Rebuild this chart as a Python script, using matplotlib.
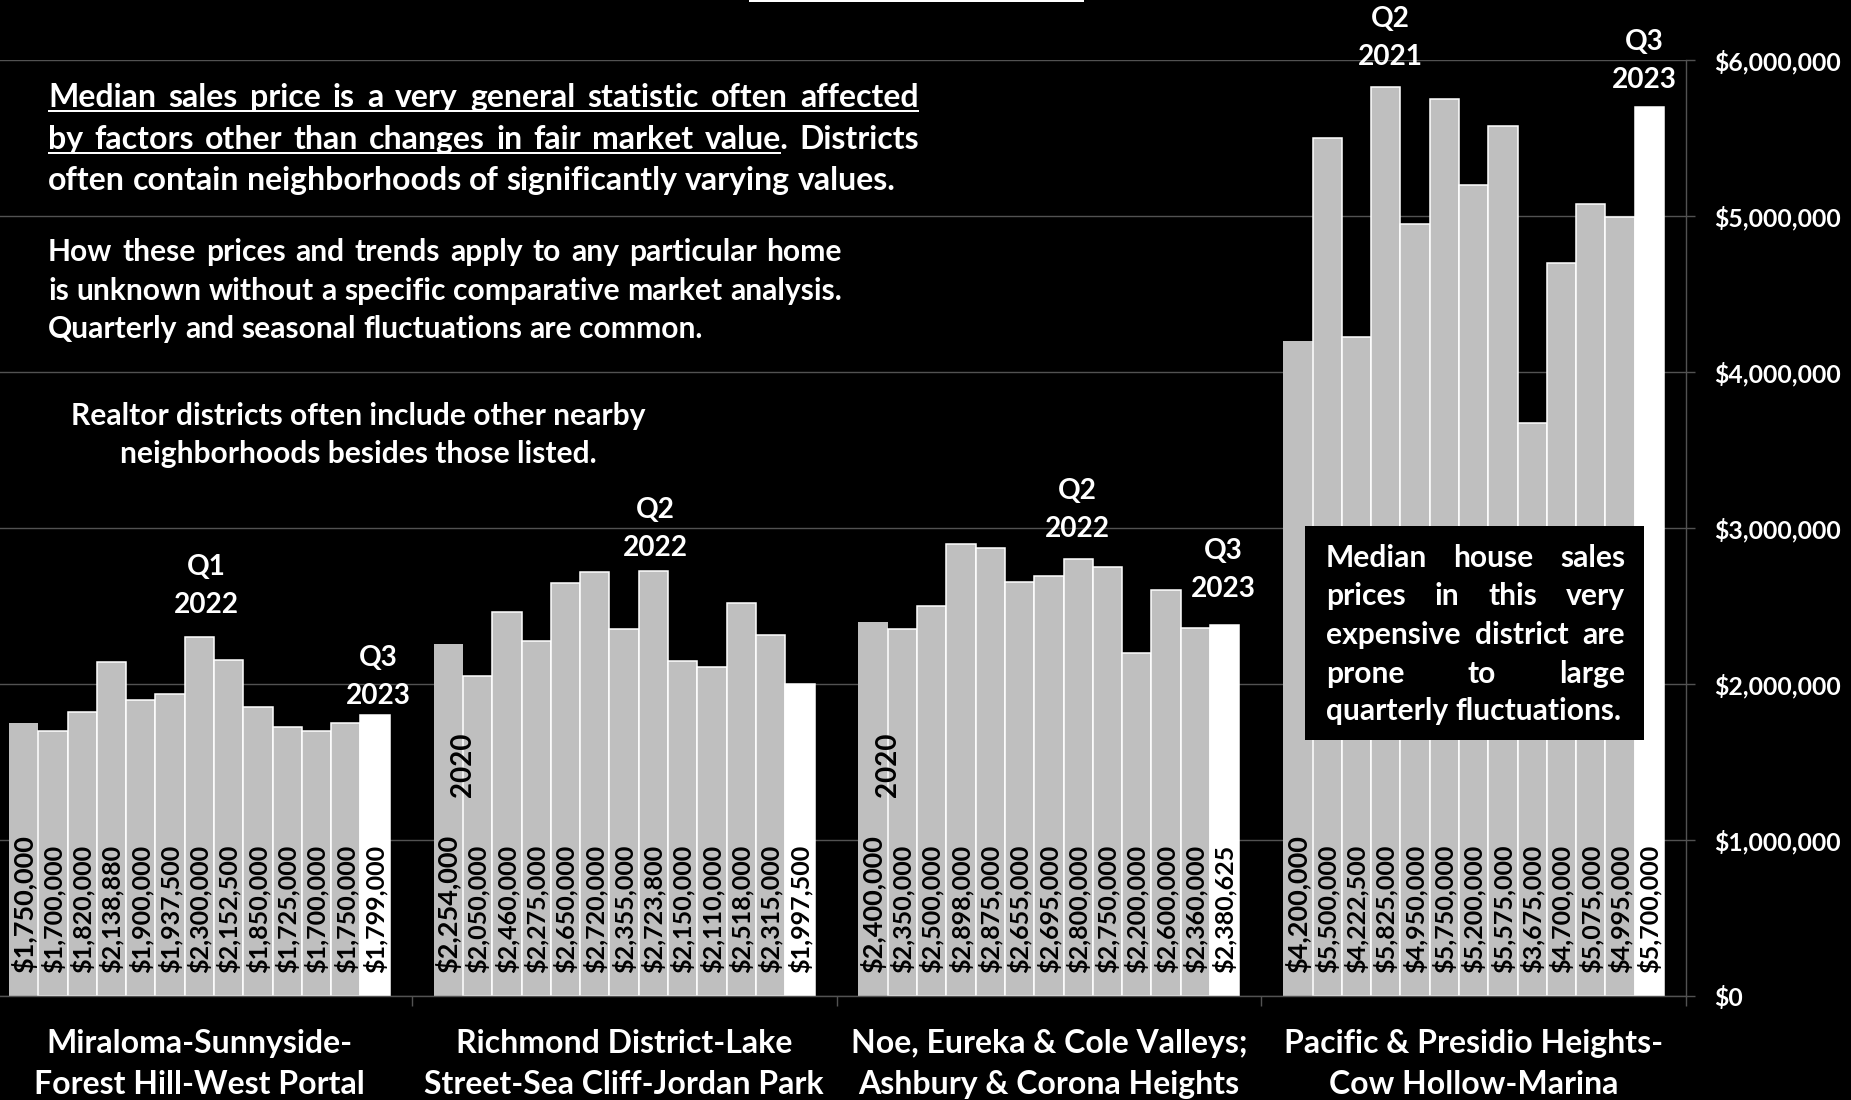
import matplotlib
matplotlib.use("Agg")
import matplotlib.pyplot as plt
from matplotlib.transforms import Affine2D, blended_transform_factory
from matplotlib.ticker import FuncFormatter, FixedLocator
from matplotlib.patches import Rectangle
import numpy as np

plt.rcParams["font.family"] = ["Lato", "DejaVu Sans"]

# ---- data -----------------------------------------------------------------
districts = [
    "Miraloma-Sunnyside-\nForest Hill-West Portal",
    "Richmond District-Lake\nStreet-Sea Cliff-Jordan Park",
    "Noe, Eureka & Cole Valleys;\nAshbury & Corona Heights",
    "Pacific & Presidio Heights-\nCow Hollow-Marina",
]
quarters = ["Q3 2020", "Q4 2020", "Q1 2021", "Q2 2021", "Q3 2021", "Q4 2021",
            "Q1 2022", "Q2 2022", "Q3 2022", "Q4 2022", "Q1 2023", "Q2 2023",
            "Q3 2023"]
miraloma = [1750000, 1700000, 1820000, 2138880, 1900000, 1937500, 2300000,
            2152500, 1850000, 1725000, 1700000, 1750000, 1799000]
richmond = [2254000, 2050000, 2460000, 2275000, 2650000, 2720000, 2355000,
            2723800, 2150000, 2110000, 2518000, 2315000, 1997500]
noe_eureka = [2400000, 2350000, 2500000, 2898000, 2875000, 2655000, 2695000,
              2800000, 2750000, 2200000, 2600000, 2360000, 2380625]
pacific = [4200000, 5500000, 4222500, 5825000, 4950000, 5750000, 5200000,
           5575000, 3675000, 4700000, 5075000, 4995000, 5700000]
prices = [miraloma, richmond, noe_eureka, pacific]
y_ticks = [0, 1000000, 2000000, 3000000, 4000000, 5000000, 6000000]

# quarter call-outs: (district, quarter, x shift px, lift above bar px)
callouts = [(0, "Q1 2022", 7, 51), (0, "Q3 2023", 3, 38),
            (1, "Q2 2022", 2, 42), (2, "Q2 2022", -1, 49),
            (2, "Q3 2023", -1, 55), (3, "Q2 2021", 5, 49),
            (3, "Q3 2023", -5, 46)]

# ---- figure ---------------------------------------------------------------
W, H = 1851, 1100
fig = plt.figure(figsize=(W / 100, H / 100), dpi=100, facecolor="black")
# pixel coordinates measured from the top-left corner
pix = Affine2D().scale(1 / W, -1 / H).translate(0, 1) + fig.transFigure

ax_l, ax_r, ax_t, ax_b = -13, 1686, 60, 996
ax = fig.add_axes([ax_l / W, (H - ax_b) / H, (ax_r - ax_l) / W, (ax_b - ax_t) / H])
ax.set_facecolor("black")

GRID = "#525252"
BAR = "#bfbfbf"

n_q, n_d = len(quarters), len(districts)
bw = 1 / (n_q + 1.5)
x_cat = np.arange(n_d)
bar_x = {}
for j in range(n_q):
    xs = x_cat + (j - (n_q - 1) / 2) * bw
    vals = [p[j] for p in prices]
    face = "white" if j == n_q - 1 else BAR
    edge = "none" if j == 0 else "white"
    ax.bar(xs, vals, width=bw, color=face, edgecolor=edge, linewidth=1.1, zorder=2)
    for d, (x, v) in enumerate(zip(xs, vals)):
        bar_x[(d, j)] = x
        ax.annotate(f"${v:,.0f}", xy=(x, 0), xytext=(0, 23),
                    textcoords="offset pixels", rotation=90, ha="center",
                    va="bottom", fontsize=19.5 if j == 0 else 18,
                    fontweight="bold", color="black", zorder=3)

ax.set_xlim(-0.5, n_d - 0.5)
ax.set_ylim(0, 6000000)

# axes styling
for side in ("left", "top"):
    ax.spines[side].set_visible(False)
for side in ("right", "bottom"):
    ax.spines[side].set_color(GRID)
    ax.spines[side].set_linewidth(1.0)
ax.yaxis.tick_right()
ax.yaxis.set_major_locator(FixedLocator(y_ticks))
ax.yaxis.set_major_formatter(FuncFormatter(lambda v, _: f"${v:,.0f}"))
ax.tick_params(axis="y", direction="out", length=6.5, width=1.0, color=GRID,
               pad=13.5, labelsize=17.8, labelcolor="white")
for lbl in ax.get_yticklabels():
    lbl.set_fontweight("bold")
ax.grid(axis="y", color=GRID, linewidth=1.0, zorder=0)
ax.set_axisbelow(True)
ax.xaxis.set_major_locator(FixedLocator(np.arange(-0.5, n_d, 1.0)))
ax.set_xticklabels([])
ax.tick_params(axis="x", direction="out", length=7.5, width=1.0, color=GRID)

# quarter call-outs above selected bars
for d, q, dx, dy in callouts:
    j = quarters.index(q)
    qlab, year = q.split()
    for txt, off in ((qlab, 19), (year, -19)):
        ax.annotate(txt, xy=(bar_x[(d, j)], prices[d][j]),
                    xytext=(dx, dy + off), textcoords="offset pixels",
                    ha="center", va="center", fontsize=20.2,
                    fontweight="bold", color="white", zorder=4)

# first-year markers next to the opening bars
for d in (1, 2):
    xb = (bar_x[(d, 0)] + bar_x[(d, 1)]) / 2
    ax.text(xb, 1480000, quarters[0].split()[1], rotation=90, ha="center",
            va="center", fontsize=20, fontweight="bold", color="black",
            zorder=4)

# district names under each group
cat_tr = blended_transform_factory(ax.transData, pix)
for d, name in enumerate(districts):
    for line, yb in zip(name.split("\n"), (1053, 1094)):
        fig.text(d, yb, line, transform=cat_tr, ha="center", va="baseline",
                 fontsize=23.0, fontweight="bold", color="white")

# ---- explanatory text -----------------------------------------------------
renderer = fig.canvas.get_renderer()


def text_width(s, size):
    t = fig.text(0, 0, s, fontsize=size, fontweight="bold")
    w = t.get_window_extent(renderer).width
    t.remove()
    return w


def line_of_words(words, x0, x1, yb, size, justify=True, zorder=5):
    arts = [fig.text(0, 0, w, transform=pix, fontsize=size, fontweight="bold",
                     color="white", va="baseline", ha="left", zorder=zorder)
            for w in words]
    widths = [a.get_window_extent(renderer).width for a in arts]
    space = text_width("a a", size) - text_width("aa", size)
    gap = space
    if justify and len(words) > 1:
        gap = max((x1 - x0 - sum(widths)) / (len(words) - 1), 0.6 * space)
    x = x0
    starts = []
    for a, w in zip(arts, widths):
        a.set_position((x, yb))
        starts.append(x)
        x += w + gap
    return starts


def underline(x0, x1, yb):
    fig.add_artist(Rectangle((x0, yb + 3), x1 - x0, 2, transform=pix,
                             facecolor="white", edgecolor="none"))


s1 = 23.0
l1 = "Median sales price is a very general statistic often affected".split()
line_of_words(l1, 48, 919, 107, s1)
underline(48, 919, 107)
l2 = "by factors other than changes in fair market value. Districts".split()
st = line_of_words(l2, 48, 919, 149, s1)
underline(48, st[l2.index("value.")] + text_width("value", s1), 149)
line_of_words("often contain neighborhoods of significantly varying values.".split(),
              48, 919, 190, s1, justify=False)

s2 = 21.6
line_of_words("How these prices and trends apply to any particular home".split(),
              48, 842, 261, s2)
line_of_words("is unknown without a specific comparative market analysis.".split(),
              48, 842, 300, s2)
line_of_words("Quarterly and seasonal fluctuations are common.".split(),
              48, 842, 338, s2, justify=False)

for txt, yb in (("Realtor districts often include other nearby", 425),
                ("neighborhoods besides those listed.", 463)):
    fig.text(358, yb, txt, transform=pix, ha="center", va="baseline",
             fontsize=s2, fontweight="bold", color="white")

# note box over the most expensive district
fig.add_artist(Rectangle((1305, 526), 339, 214, transform=pix,
                         facecolor="black", edgecolor="none", zorder=4))
box_lines = ["Median house sales", "prices in this very",
             "expensive district are", "prone to large",
             "quarterly fluctuations."]
for k, (txt, yb) in enumerate(zip(box_lines, (567, 605, 644, 683, 720))):
    line_of_words(txt.split(), 1326, 1625, yb, 21.6,
                  justify=k < len(box_lines) - 1, zorder=6)

# underline of the heading running above the frame
fig.add_artist(Rectangle((749, 0), 335, 2, transform=pix,
                         facecolor="white", edgecolor="none"))

fig.savefig("out.png", dpi=100, facecolor="black")
